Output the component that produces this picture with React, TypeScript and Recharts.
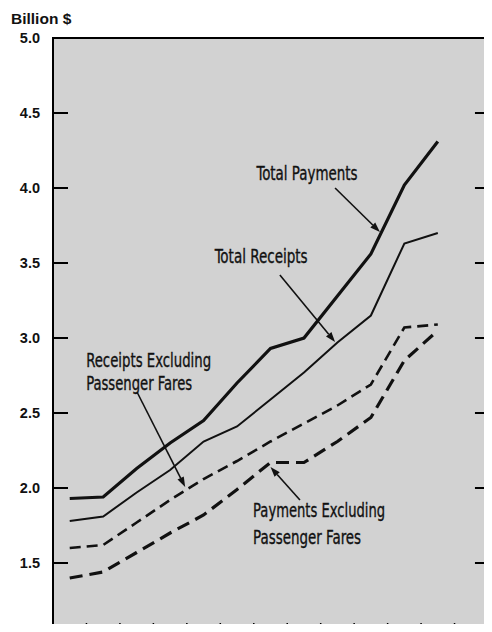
import React from 'react';
import {
  LineChart,
  Line,
  XAxis,
  YAxis,
  CartesianGrid,
  ReferenceArea,
  ReferenceDot,
  ReferenceLine,
} from 'recharts';

// Twelve yearly observations (year labels lie below the visible frame)
const periods = [0, 1, 2, 3, 4, 5, 6, 7, 8, 9, 10, 11];
const totalPayments = [1.93, 1.94, 2.13, 2.3, 2.45, 2.7, 2.93, 3.0, 3.28, 3.56, 4.02, 4.31];
const totalReceipts = [1.78, 1.81, 1.97, 2.12, 2.31, 2.41, 2.59, 2.77, 2.97, 3.15, 3.63, 3.7];
const receiptsExFares = [1.6, 1.62, 1.77, 1.92, 2.06, 2.18, 2.31, 2.43, 2.55, 2.69, 3.07, 3.09];
const paymentsExFares = [1.4, 1.44, 1.57, 1.7, 1.82, 1.99, 2.17, 2.17, 2.31, 2.47, 2.85, 3.05];

const yTicks = [1.0, 1.5, 2.0, 2.5, 3.0, 3.5, 4.0, 4.5, 5.0];
const xTicks = [0.5, 1.5, 2.5, 3.5, 4.5, 5.5, 6.5, 7.5, 8.5, 9.5, 10.5, 11.5];
const X_MIN = -0.5;
const X_MAX = 12.5;
const RIGHT_TICK = 0.39; // inward tick length on the right frame, in x units

const annotationTexts = [
  { text: 'Total Payments', x: 7.09, y: 4.1, anchor: 'middle', len: 101 },
  { text: 'Total Receipts', x: 5.72, y: 3.55, anchor: 'middle', len: 93 },
  { text: 'Receipts Excluding', x: 0.49, y: 2.853, anchor: 'start', len: 125 },
  { text: 'Passenger Fares', x: 0.49, y: 2.7, anchor: 'start', len: 106 },
  { text: 'Payments Excluding', x: 5.48, y: 1.853, anchor: 'start', len: 132 },
  { text: 'Passenger Fares', x: 5.48, y: 1.673, anchor: 'start', len: 108 },
];

const annotationArrows = [
  { x1: 7.93, y1: 4.0, x2: 9.27, y2: 3.707 },
  { x1: 6.28, y1: 3.42, x2: 7.93, y2: 2.973 },
  { x1: 2.01, y1: 2.64, x2: 3.45, y2: 2.007 },
  { x1: 6.88, y1: 1.92, x2: 6.0, y2: 2.14 },
];

const data = periods.map((p, i) => ({
  idx: p,
  tp: totalPayments[i],
  tr: totalReceipts[i],
  re: receiptsExFares[i],
  pe: paymentsExFares[i],
}));

const NARROW = "'Liberation Sans Narrow', 'DejaVu Sans Condensed', 'Liberation Sans', sans-serif";
const BOLD = "'Liberation Sans', Arial, sans-serif";

// Left axis: bold label outside, short tick pointing into the plot
const LeftTick = (props: any) => {
  const { x, y, payload } = props;
  return (
    <g>
      <line x1={x} x2={x + 15} y1={y} y2={y} stroke="#000" strokeWidth={2} />
      <text
        x={x - 13}
        y={y}
        textAnchor="end"
        dominantBaseline="central"
        fontFamily={BOLD}
        fontWeight="bold"
        fontSize={14.5}
        fill="#111"
      >
        {Number(payload.value).toFixed(1)}
      </text>
    </g>
  );
};

// Bottom axis: tick pointing up into the plot
const BottomTick = (props: any) => {
  const { x, y } = props;
  return <line x1={x} x2={x} y1={y} y2={y - 15} stroke="#000" strokeWidth={1.5} />;
};

const Arrow = (props: any) => {
  const { x1, y1, x2, y2 } = props;
  const dx = x2 - x1;
  const dy = y2 - y1;
  const len = Math.sqrt(dx * dx + dy * dy) || 1;
  const ux = dx / len;
  const uy = dy / len;
  const hl = 10;
  const hw = 3.5;
  const bx = x2 - ux * hl;
  const by = y2 - uy * hl;
  const pts = `${x2},${y2} ${bx - uy * hw},${by + ux * hw} ${bx + uy * hw},${by - ux * hw}`;
  return (
    <g>
      <line x1={x1} y1={y1} x2={bx} y2={by} stroke="#111" strokeWidth={1.6} />
      <polygon points={pts} fill="#111" />
    </g>
  );
};

export default function App() {
  return (
    <div style={{ position: 'relative', width: 484, height: 624, overflow: 'hidden', marginBottom: -8 }}>
      <div
        style={{
          position: 'absolute',
          left: 3,
          top: 2,
          lineHeight: '18px',
          fontFamily: BOLD,
          fontWeight: 'bold',
          fontSize: 15.5,
          color: '#111',
          zIndex: 2,
        }}
      >
        Billion $
      </div>
      <LineChart width={484} height={660} data={data} margin={{ top: 30, right: 4, bottom: 0, left: 0 }}>
        <CartesianGrid horizontal={false} vertical={false} fill="#d2d2d2" />
        <XAxis
          dataKey="idx"
          type="number"
          domain={[X_MIN, X_MAX]}
          ticks={xTicks}
          height={30}
          axisLine={false}
          tickLine={false}
          tickSize={0}
          tickMargin={0}
          tick={<BottomTick />}
          interval={0}
        />
        <YAxis
          domain={[1, 5]}
          ticks={yTicks}
          width={45}
          axisLine={false}
          tickLine={false}
          tickSize={0}
          tickMargin={0}
          tick={<LeftTick />}
          interval={0}
        />
        <ReferenceArea
          x1={X_MIN}
          x2={X_MAX}
          y1={1}
          y2={5}
          fill="none"
          stroke="#000"
          strokeWidth={2}
          ifOverflow="visible"
        />
        {yTicks.map((v) => (
          <ReferenceLine
            key={'yr' + v}
            segment={[
              { x: X_MAX - RIGHT_TICK, y: v },
              { x: X_MAX, y: v },
            ]}
            stroke="#000"
            strokeWidth={2}
            ifOverflow="visible"
          />
        ))}
        <Line dataKey="tp" stroke="#111" strokeWidth={3.2} dot={false} isAnimationActive={false} />
        <Line dataKey="tr" stroke="#111" strokeWidth={2} dot={false} isAnimationActive={false} />
        <Line
          dataKey="re"
          stroke="#111"
          strokeWidth={2.6}
          strokeDasharray="11 6"
          dot={false}
          isAnimationActive={false}
        />
        <Line
          dataKey="pe"
          stroke="#111"
          strokeWidth={3.2}
          strokeDasharray="13 7"
          dot={false}
          isAnimationActive={false}
        />
        {annotationArrows.map((a, i) => (
          <ReferenceLine
            key={'a' + i}
            segment={[
              { x: a.x1, y: a.y1 },
              { x: a.x2, y: a.y2 },
            ]}
            ifOverflow="visible"
            shape={(p: any) => <Arrow {...p} />}
          />
        ))}
        {annotationTexts.map((t, i) => (
          <ReferenceDot
            key={'t' + i}
            x={t.x}
            y={t.y}
            r={0}
            ifOverflow="visible"
            shape={(p: any) => (
              <text
                x={p.cx}
                y={p.cy}
                textAnchor={t.anchor as any}
                dominantBaseline="central"
                fontFamily={NARROW}
                fontSize={20}
                textLength={t.len}
                lengthAdjust="spacingAndGlyphs"
                fill="#111"
                stroke="#111"
                strokeWidth={0.35}
              >
                {t.text}
              </text>
            )}
          />
        ))}
      </LineChart>
    </div>
  );
}
